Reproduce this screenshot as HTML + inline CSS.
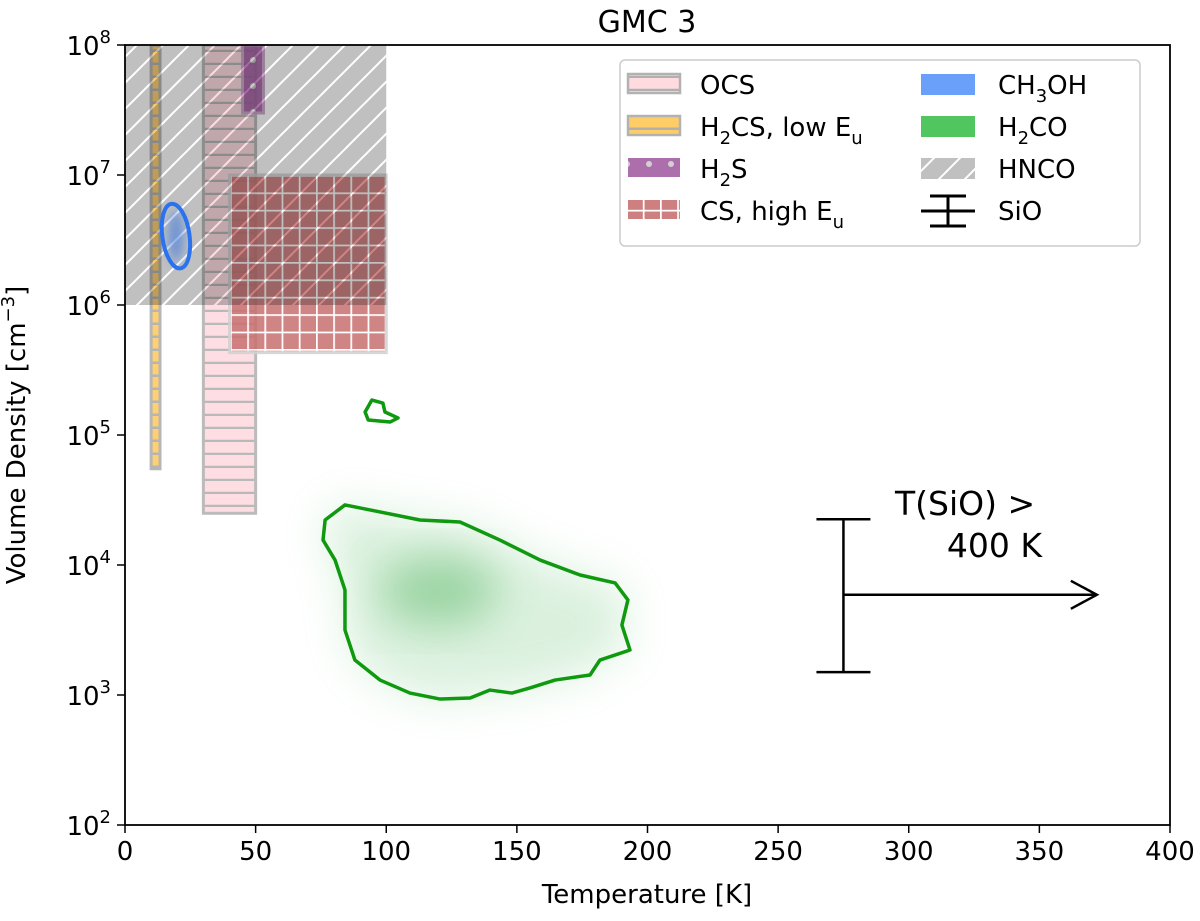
<!DOCTYPE html>
<html><head><meta charset="utf-8"><style>
body{margin:0;background:#fff;font-family:"Liberation Sans","DejaVu Sans",sans-serif;}
svg text{font-family:"DejaVu Sans","Liberation Sans",sans-serif;}
</style></head><body>
<svg id="chart" width="1200" height="916" xmlns="http://www.w3.org/2000/svg">
<defs>
<pattern id="hatchHNCO" patternUnits="userSpaceOnUse" width="26" height="26">
<rect width="26" height="26" fill="#c0c0c0"/>
<path d="M-2,28 L28,-2 M-15,15 L15,-15 M11,41 L41,11" stroke="#fff" stroke-width="2"/>
</pattern>
<pattern id="hatchOCS" patternUnits="userSpaceOnUse" width="20" height="13">
<rect width="20" height="13" fill="#ffd6dc"/><line x1="0" y1="12" x2="20" y2="12" stroke="#a8a8a8" stroke-width="2.5"/>
</pattern>
<pattern id="hatchH2CS" patternUnits="userSpaceOnUse" width="20" height="13">
<rect width="20" height="13" fill="#ffc857"/><line x1="0" y1="12" x2="20" y2="12" stroke="#a8a8a8" stroke-width="3"/>
</pattern>
<pattern id="hatchCS" patternUnits="userSpaceOnUse" width="17.2" height="17.4" x="230" y="175">
<rect width="17.2" height="17.4" fill="#c87070"/><path d="M0,0.5 H17.2 M0.5,0 V17.4" stroke="#fff" stroke-width="2.5"/>
</pattern>
<pattern id="dotsH2S" patternUnits="userSpaceOnUse" width="22" height="26">
<rect width="22" height="26" fill="#a35fa3"/><circle cx="11" cy="8" r="3" fill="#ccc"/>
</pattern>
<filter id="blur" x="-40%" y="-40%" width="180%" height="180%"><feGaussianBlur stdDeviation="22"/></filter>
<filter id="blur2" x="-30%" y="-30%" width="160%" height="160%"><feGaussianBlur stdDeviation="5"/></filter>
<clipPath id="plotclip"><rect x="125" y="45" width="1045" height="780"/></clipPath>
</defs>
<g id="plot" clip-path="url(#plotclip)"></g>
<g id="axes"></g>
</svg>
<script>
const xMin=0,xMax=400,logMin=2,logMax=8;
const X0=125,X1=1170,Y0=825,Y1=45;
function sx(t){return X0+(t-xMin)/(xMax-xMin)*(X1-X0);}
function sy(n){return Y0-(Math.log10(n)-logMin)/(logMax-logMin)*(Y0-Y1);}
function syl(l){return Y0-(l-logMin)/(logMax-logMin)*(Y0-Y1);}

// region data: [Tmin, Tmax, nmin, nmax]
const hncoRegion=[0,100,1e6,1e8];
const ocsRegion=[30,50,2.5e4,1e8];
const h2csRegion=[10,13.4,5.5e4,1e8];
const h2sRegion=[45,53,3e7,1e8];
const csRegion=[40,100,4.3e5,1e7];
// CH3OH contour: center T, log n, half-width T, half-height dex
const ch3ohCenter=[19.5,6.53];
const ch3ohSize=[5.2,0.25];
// H2CO contour [T, log10 n]
const h2coT=[76.6,84.2,97.6,112.9,128.2,143.5,158.9,174.2,187.6,192.5,190.2,193.3,181.8,178.0,164.6,155.0,148.1,139.7,132.1,120.6,109.1,97.6,88.0,84.2,84.2,80.4,75.8];
const h2coLogN=[4.346,4.462,4.408,4.346,4.331,4.192,4.038,3.923,3.862,3.731,3.538,3.346,3.269,3.154,3.115,3.054,3.015,3.038,2.977,2.969,3.015,3.115,3.269,3.5,3.808,4.038,4.192];
const blobT=[91.9,94.5,98.7,99.5,104.5,101.5,93.1];
const blobLogN=[5.177,5.269,5.246,5.177,5.131,5.1,5.115];
// SiO lower limit
const sioT=275, sioNlow=1.5e3, sioNhigh=2.25e4, sioNmid=5.9e3, sioArrowT=372;
const xTicks=[0,50,100,150,200,250,300,350,400];
const yTicks=[2,3,4,5,6,7,8];

const NS="http://www.w3.org/2000/svg";
const plot=document.getElementById('plot'),axes=document.getElementById('axes');
function el(tag,attrs,parent){const e=document.createElementNS(NS,tag);for(const k in attrs)e.setAttribute(k,attrs[k]);parent.appendChild(e);return e;}
function rectR(r,fill,stroke,op){return {x:sx(r[0]),y:sy(r[3]),width:sx(r[1])-sx(r[0]),height:sy(r[2])-sy(r[3]),fill:fill,stroke:stroke||'none','stroke-width':3,opacity:op||1};}

// H2CO blurred density
const hp=h2coT.map((t,i)=>sx(t)+','+syl(h2coLogN[i])).join(' ');
let g=el('polygon',{points:hp,fill:'#5cc06a',opacity:0.22,filter:'url(#blur)'},plot);


g=el('ellipse',{cx:sx(120),cy:syl(3.8),rx:60,ry:35,fill:'#3aa84a',opacity:0.4,filter:'url(#blur)'},plot);



let r=el('rect',rectR(h2csRegion,'url(#hatchH2CS)','#aaaaaa',0.85),plot);


r=el('rect',rectR(ocsRegion,'url(#hatchOCS)','#aaaaaa',0.8),plot);


r=el('rect',rectR(csRegion,'url(#hatchCS)','#d0d0d0',0.85),plot);


r=el('rect',rectR(h2sRegion,'url(#dotsH2S)','#c8a0c8',0.9),plot);


r=el('rect',rectR(hncoRegion,'url(#hatchHNCO)',null,1),plot);
r.setAttribute('style','mix-blend-mode:multiply');



// CH3OH
const ecx=sx(ch3ohCenter[0]),ecy=syl(ch3ohCenter[1]),erx=sx(ch3ohCenter[0]+ch3ohSize[0])-ecx,ery=ecy-syl(ch3ohCenter[1]+ch3ohSize[1]);
g=el('ellipse',{cx:ecx,cy:ecy,rx:erx*0.6,ry:ery*0.8,fill:'#3a78e0',opacity:0.6,filter:'url(#blur2)'},plot);


g=el('ellipse',{cx:ecx,cy:ecy,rx:erx,ry:ery,fill:'none',stroke:'#2a72f0','stroke-width':4,transform:`rotate(-8 ${ecx} ${ecy})`},plot);



g=el('polygon',{points:hp,fill:'none',stroke:'#0f990f','stroke-width':3.5,'stroke-linejoin':'round'},plot);


const bp=blobT.map((t,i)=>sx(t)+','+syl(blobLogN[i])).join(' ');
g=el('polygon',{points:bp,fill:'none',stroke:'#0f990f','stroke-width':3.5,'stroke-linejoin':'round'},plot);



// SiO
const sX=sx(sioT),yl=sy(sioNlow),yh=sy(sioNhigh),ym=sy(sioNmid),xa=sx(sioArrowT);
g=el('path',{d:`M${sX},${yl}V${yh}M${sX-27},${yl}H${sX+27}M${sX-27},${yh}H${sX+27}M${sX},${ym}H${xa}M${xa-26},${ym-14}L${xa},${ym}L${xa-26},${ym+14}`,stroke:'#000','stroke-width':2.5,fill:'none'},plot);


let t=el('text',{x:895,y:515,'font-size':33},axes);t.textContent='T(SiO) >';


t=el('text',{x:1042,y:557,'font-size':33,'text-anchor':'end'},axes);t.textContent='400 K';



// Axes
let f=el('rect',{x:X0,y:Y1,width:X1-X0,height:Y0-Y1,fill:'none',stroke:'#000','stroke-width':1.8},axes);


xTicks.forEach(v=>{const x=sx(v);el('line',{x1:x,x2:x,y1:Y0,y2:Y0+8,stroke:'#000','stroke-width':1.5},axes);
 const tt=el('text',{x:x,y:Y0+35,'font-size':26,'text-anchor':'middle'},axes);tt.textContent=v;
 
 });
yTicks.forEach(v=>{const y=syl(v);el('line',{x1:X0-8,x2:X0,y1:y,y2:y,stroke:'#000','stroke-width':1.5},axes);
 const tt=el('text',{x:X0-14,y:y+10,'font-size':26,'text-anchor':'end'},axes);
 tt.innerHTML='10<tspan dy="-12" font-size="18">'+v+'</tspan>';
 
 });
t=el('text',{x:647,y:903,'font-size':26,'text-anchor':'middle'},axes);t.textContent='Temperature [K]';


t=el('text',{x:0,y:0,'font-size':26,'text-anchor':'middle',transform:'translate(25,435) rotate(-90)'},axes);
t.innerHTML='Volume Density [cm<tspan dy="-11" font-size="18">−3</tspan><tspan dy="11">]</tspan>';


t=el('text',{x:647,y:32,'font-size':30,'text-anchor':'middle'},axes);t.textContent='GMC 3';



// Legend
const lg=el('g',{},axes);


el('rect',{x:620,y:60,width:520,height:186,rx:5,fill:'#fff','fill-opacity':0.85,stroke:'#ccc','stroke-width':1.5},lg);
const leftLabels=['OCS','H<tspan dy="8" font-size="18">2</tspan><tspan dy="-8">CS, low E</tspan><tspan dy="8" font-size="18">u</tspan>','H<tspan dy="8" font-size="18">2</tspan><tspan dy="-8">S</tspan>','CS, high E<tspan dy="8" font-size="18">u</tspan>'];
const leftFills=['url(#hatchOCS)','url(#hatchH2CS)','url(#dotsH2S)','url(#hatchCS)'];
const rightLabels=['CH<tspan dy="8" font-size="18">3</tspan><tspan dy="-8">OH</tspan>','H<tspan dy="8" font-size="18">2</tspan><tspan dy="-8">CO</tspan>','HNCO','SiO'];
const rightFills=['#6aa0fa','#52c65e','url(#hatchHNCO)',null];
for(let i=0;i<4;i++){const y=74+i*42;
 el('rect',{x:628,y:y,width:52,height:19,fill:leftFills[i],stroke:i<2?'#aaa':'none','stroke-width':2.5,opacity:0.9},lg);
 const tt=el('text',{x:700,y:y+20,'font-size':26},lg);tt.innerHTML=leftLabels[i];
 
 
 if(rightFills[i]) el('rect',{x:921,y:y,width:54,height:21,fill:rightFills[i]},lg);
 else el('path',{d:`M921,${y+11}H975M930,${y-4}H966M930,${y+26}H966M948,${y-4}V${y+26}`,stroke:'#000','stroke-width':3,fill:'none'},lg);
 const t2=el('text',{x:998,y:y+20,'font-size':26},lg);t2.innerHTML=rightLabels[i];
 
 
}
</script>
</body></html>
